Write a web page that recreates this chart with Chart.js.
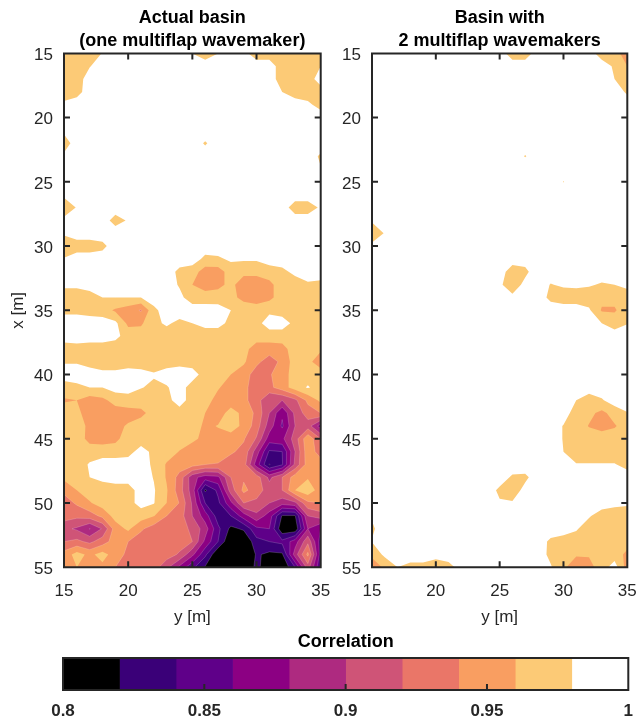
<!DOCTYPE html>
<html>
<head>
<meta charset="utf-8">
<title>Correlation maps</title>
<script src="https://cdn.jsdelivr.net/npm/chart.js@4/dist/chart.umd.min.js"></script>
<style>
    html, body { margin: 0; padding: 0; background: #fff; }
    #page { position: relative; width: 638px; height: 723px; overflow: hidden; }
    canvas { position: absolute; display: block; }
</style>
</head>
<body>
<div id="page">
    <canvas id="left-chart" width="345" height="640" style="left:0;top:0"></canvas>
    <canvas id="right-chart" width="317" height="640" style="left:335px;top:0"></canvas>
    <canvas id="colorbar" width="660" height="93" style="left:0;top:630px"></canvas>
</div>
<script>
// Measurement grid, metres
const yPositions = [15, 16, 17, 18, 19, 20, 21, 22, 23, 24, 25, 26, 27, 28, 29, 30, 31, 32, 33, 34, 35];
const xPositions = [15, 16, 17, 18, 19, 20, 21, 22, 23, 24, 25, 26, 27, 28, 29, 30, 31, 32, 33, 34, 35,
    36, 37, 38, 39, 40, 41, 42, 43, 44, 45, 46, 47, 48, 49, 50, 51, 52, 53, 54, 55];

// Correlation x 100, one row per x position (15..55), one value per y position (15..35)
const actualBasin = [
    [97,97,97,98.1,99,99,99,99,99,99,98,97,98,99,98.6,97,97,97,97,97,97],
    [97,97,97.9,99,99,99,99,99,99,99,99,99,99,99,99,99,99,97,97,97,98],
    [97,97,99,99,99,99,99,99,99,99,99,99,99,99,99,99,99,97,97,97,99],
    [97,97.3,99,99,99,99,99,99,99,99,99,99,99,99,99,99,99,98,97,97,97],
    [98.4,99,99,99,99,99,99,99,99,99,99,99,99,99,99,99,99,99,99,98.4,97.3],
    [99,99,99,99,99,99,99,99,99,99,99,99,99,99,99,99,99,99,99,99,99],
    [98.4,99,99,99,99,99,99,99,99,99,99,99,99,99,99,99,99,99,99,99,99],
    [97,99,99,99,99,99,99,99,99,99,99,97.8,99,99,99,99,99,99,99,99,99],
    [98.4,99,99,99,99,99,99,99,99,99,99,99,99,99,99,99,99,99,99,99,97.7],
    [99,99,99,99,99,99,99,99,99,99,99,99,99,99,99,99,99,99,99,99,98.1],
    [99,99,99,99,99,99,99,99,99,99,99,99,99,99,99,99,99,99,99,99,99],
    [98.3,99,99,99,99,99,99,99,99,99,99,99,99,99,99,99,99,99,99,99,99],
    [97,98.1,99,99,99,99,99,99,99,99,99,99,99,99,99,99,99,99,97,97,98.3],
    [98.4,99,99,99,97.2,98.2,99,99,99,99,99,99,99,99,99,99,99,99,99,99,99],
    [98.2,99,99,99,99,99,99,99,99,99,99,99,99,99,99,99,99,99,99,99,99],
    [97,97,97,97.5,99,99,99,99,99,99,99,99,99,99,99,99,99,99,99,99,99],
    [98.1,99,99,99,99,99,99,99,99,99,99,97.5,97.7,98.3,98.3,98.3,99,99,99,99,99],
    [99,99,99,99,99,99,99,99,99,97.5,97,95,95,97,96.5,96.5,97,97.5,98.5,99,99],
    [98.4,98.4,99,99,99,99,99,99,99,97.8,96,95,95.5,96.5,95,95,95.5,97,97,97.7,97.5],
    [97,97,97,98,98,98,98,99,99,98.5,97,97,96.9,96.5,95.5,95,95.5,97,97,97,97],
    [97.5,97.5,97.2,96.9,95.7,95,93.8,97.5,99,99,99,99,99,98,97,97,97.5,97,97,97,97],
    [99,99,99,99,98.5,95.5,95.7,97.5,98.3,97.5,98,98.6,98.6,97.5,97,97.3,99,99,97.4,97,97],
    [98.5,99,99,99,98.5,97.2,97,97,97,97,97,97,97,97,97,97,97,97,97,97,97],
    [97.5,97.3,97,97,97,97,97,97,97,97,97,97,97,97,96.7,95,95,95.3,97,97,96.3],
    [97.8,97.8,97.2,97,97,97,97,97,97,97.4,97,97,97,96.9,96.3,94.5,93,94.5,97,96.5,95],
    [99,99,99,98.5,98.5,99,98.7,98.2,99,99,99,97,96.9,96,95,93,93.8,95,97,97,97],
    [97,97.5,98,98,98.8,99,98.1,97.6,97.8,99,97,97,96.2,95,94.5,93,93.5,95,97,98.2,97],
    [95.8,96,95,95.5,96.8,97,97,97,97.3,99,97,96.8,95.3,95,94.5,93,90,90,91.5,94.5,96.5],
    [97,96.5,95,95,95,95.3,95.5,96.8,97,97,97,96,95,96.8,95.5,93.5,90,86.3,90.5,93,94],
    [97,97,95.5,95,95.5,96.2,97,97,97,97,97,95.6,96.1,97,95.5,93,89,85.7,90,91,87],
    [97,97,95.4,95.2,95.5,97,97,97.8,97,96.9,96.4,95.5,95.4,95,94.2,91.8,87,87.5,91,95.5,92],
    [97,97,97,97,97,97.3,98.8,97.5,97,95.9,95,95,94.8,94.3,93.4,89,83.7,84,90,95.3,93],
    [97,97,98.2,99,99,99,99,97.6,95.8,95,94.8,94,93.9,92.9,93,87,81.9,83.8,90.5,95,95],
    [96.5,97,98,98.5,99,99,99,97.9,95.8,93.3,88.7,87,87.5,92,93.7,93,89.5,92,95,95.8,94.8],
    [94.5,96,97,97,97,97,99,98.2,96.2,92.9,89,81.7,84.5,91,94.5,93,91,92,96,97.5,94.8],
    [93,94.3,95.8,97,97,97.3,98.7,98.1,96,93.9,89.7,84,83.5,87.5,92,91.5,90,88.8,89.5,93.5,94],
    [93,92.5,93,94.5,96.8,97,97,96.1,94,93,90,87,83,84,87,89.5,87,81.8,81.8,90,91],
    [90.5,89.7,87.9,90.2,95,96.4,94.3,93,93,93,91.5,89,84.5,81.5,82.3,85.5,86,80.5,80.5,88,86],
    [92,92.5,91.5,93,95,94,93,93,93,93,92,87.5,84,80,80,83.3,84,84.5,87,91.5,85],
    [94.8,96.8,95.5,96.8,95,93.5,93,93,93,91.7,88.5,84.5,80,79,79,82.3,81.5,81.7,89,94.5,85],
    [94.8,96,95,95.5,94,93,93,93,90.5,87.5,84.5,81.8,79,79,79,82.8,80,80,84,91,84]
];

const twoWavemakers = [
    [99,99,99,99,99,99,99,99,99,99,99,97,97,99,99,99,99,99,97,96.8,95],
    [99,99,99,99,99,99,99,99,99,99,99,99,99,99,99,99,99,99,99,97.7,96],
    [99,99,99,99,99,99,99,99,99,99,99,99,99,99,99,99,99,99,99,98,97],
    [99,99,99,99,99,99,99,99,99,99,99,99,99,99,99,99,99,99,99,99,97.7],
    [99,99,99,99,99,99,99,99,99,99,99,99,99,99,99,99,99,99,99,99,99],
    [99,99,99,99,99,99,99,99,99,99,99,99,99,99,99,99,99,99,99,99,99],
    [99,99,99,99,99,99,99,99,99,99,99,99,99,99,99,99,99,99,99,99,99],
    [99,99,99,99,99,99,99,99,99,99,99,99,99,99,99,99,99,99,99,99,99],
    [99,99,99,99,99,99,99,99,99,99,99,99,97.9,99,99,99,99,99,99,99,99],
    [99,99,99,99,99,99,99,99,99,99,99,99,99,99,99,99,99,99,99,99,99],
    [99,99,99,99,99,99,99,99,99,99,99,99,99,99,99,97.95,99,99,99,99,99],
    [99,99,99,99,99,99,99,99,99,99,99,99,99,99,99,99,99,99,99,99,99],
    [99,99,99,99,99,99,99,99,99,99,99,99,99,99,99,99,99,99,99,99,99],
    [98.2,99,99,99,99,99,99,99,99,99,99,99,99,99,99,99,99,99,99,99,99],
    [97,98.1,99,99,99,99,99,99,99,99,99,99,99,99,99,99,99,99,99,99,99],
    [98.4,99,99,99,99,99,99,99,99,99,99,99,99,99,99,99,99,99,99,99,99],
    [99,99,99,99,99,99,99,99,99,99,99,99,98.7,99,99,99,99,99,99,99,99],
    [99,99,99,99,99,99,99,99,99,99,99,96.9,97.6,99,99,99,99,99,99,99,99],
    [99,99,99,99,99,99,99,99,99,99,98.3,97,98.5,99,97.9,98.3,98.4,98.2,97.8,98,98.5],
    [99,99,99,99,99,99,99,99,99,99,99,98.4,99,99,97.5,97,97,97,96.5,96.5,97],
    [97.8,99,99,99,99,99,99,99,99,99,99,99,99,99,99,99,99,98.3,95.8,95.8,97],
    [99,99,99,99,99,99,99,99,99,99,99,99,99,99,99,99,99,99,98,97,97.9],
    [99,99,99,99,99,99,99,99,99,99,99,99,99,99,99,99,99,99,99,99,99],
    [99,99,99,99,99,99,99,99,99,99,99,99,99,99,99,99,99,99,99,99,99],
    [99,99,99,99,99,99,99,99,99,99,99,99,99,99,99,99,99,99,99,99,99],
    [99,99,99,99,99,99,99,99,99,99,99,99,99,99,99,99,99,99,99,99,99],
    [99,99,99,99,99,99,99,99,99,99,99,99,99,99,99,99,99,99,99,99,99],
    [99,99,99,99,99,99,99,99,99,99,99,99,99,99,99,99,98,97,97.8,99,99],
    [99,99,99,99,99,99,99,99,99,99,99,99,99,99,99,99,97,96.5,95.5,96.8,97.9],
    [99,99,99,99,99,99,99,99,99,99,99,99,99,99,99,97.9,97,95.9,95.3,95.8,97],
    [99,99,99,99,99,99,99,99,99,99,99,99,99,99,99,97.9,97,97,97,97,97],
    [99,99,99,99,99,99,99,99,99,99,99,99,99,99,99,98,97,97,97,97,97],
    [99,99,99,99,99,99,99,99,99,99,99,99,99,99,99,99,98.1,98.1,98.1,98.1,97.5],
    [99,99,99,99,99,99,99,99,99,99,99,97.7,97.6,99,99,99,99,99,99,99,98.7],
    [99,99,99,99,99,99,99,99,99,99,97.6,97,98.6,99,99,99,99,99,99,99,99],
    [99,99,99,99,99,99,99,99,99,99,98.2,98.2,99,99,99,99,99,99,99,98.5,98.3],
    [98.2,99,99,99,99,99,99,99,99,99,99,99,99,99,99,99,99,98.2,97,97,97],
    [97.7,99,99,99,99,99,99,99,99,99,99,99,99,99,99,99,98.2,97,97,97,97],
    [98.1,99,99,99,99,99,99,99,99,99,99,99,99,99,97.6,97,97,97,97,97,96.8],
    [96.4,98.5,99,99,99,98.6,99,99,99,99,99,99,99,99,97.5,97,96.2,96.2,97,97,95.5],
    [95,96.3,98,97.4,97.4,97,97.3,98.8,99,99,99,99,99,99,98.2,96.3,95,95.3,97,99,95]
];

// Contour levels (x 100) and the colour of each band, lowest first. Above 98 stays white.
const levels = [80, 82, 84, 86, 88, 90, 92, 94, 96, 98, 100];
const bandColors = ['#000000', '#3a0078', '#5f0089', '#8c0083', '#ae2a80', '#cf5477', '#ea7668', '#f99e61', '#fcca76', '#ffffff'];
const colorbarTicks = [0.8, 0.85, 0.9, 0.95, 1];

const INK = '#262626';
const FONT = '"Liberation Sans", Arial, sans-serif';

// Clip one grid cell to the part below a level. corners are [px, py, value]
function clipCell(corners, level, crossings) {
    const out = [];
    for (let i = 0; i < corners.length; i++) {
        const a = corners[i];
        const b = corners[(i + 1) % corners.length];
        if (a[2] < level) out.push(a);
        if ((a[2] < level) !== (b[2] < level)) {
            const t = (level - a[2]) / (b[2] - a[2]);
            const p = [a[0] + t * (b[0] - a[0]), a[1] + t * (b[1] - a[1]), level];
            out.push(p);
            crossings.push(p);
        }
    }
    return out;
}

// Filled contours, highest band first so the lower ones paint over it
const contourPlugin = {
    id: 'contour',
    beforeDatasetsDraw(chart) {
        const rows = chart.options.plugins.contour.rows;
        const { ctx, chartArea, scales } = chart;
        const px = yPositions.map(v => scales.x.getPixelForValue(v));
        const py = xPositions.map(v => scales.y.getPixelForValue(v));
        const seams = [];
        ctx.save();
        ctx.beginPath();
        ctx.rect(chartArea.left, chartArea.top, chartArea.width, chartArea.height);
        ctx.clip();
        for (let k = levels.length - 3; k >= 0; k--) {
            const level = levels[k + 1];
            ctx.beginPath();
            for (let i = 0; i < py.length - 1; i++) {
                for (let j = 0; j < px.length - 1; j++) {
                    const crossings = [];
                    const poly = clipCell([
                        [px[j], py[i], rows[i][j]],
                        [px[j + 1], py[i], rows[i][j + 1]],
                        [px[j + 1], py[i + 1], rows[i + 1][j + 1]],
                        [px[j], py[i + 1], rows[i + 1][j]]
                    ], level, crossings);
                    if (level <= 94) seams.push(...crossings);
                    if (poly.length < 3) continue;
                    poly.forEach((p, n) => n ? ctx.lineTo(p[0], p[1]) : ctx.moveTo(p[0], p[1]));
                    ctx.closePath();
                }
            }
            ctx.fillStyle = bandColors[k];
            ctx.fill();
        }
        // the pale hairlines between the darker bands
        ctx.beginPath();
        for (let n = 0; n + 1 < seams.length; n += 2) {
            ctx.moveTo(seams[n][0], seams[n][1]);
            ctx.lineTo(seams[n + 1][0], seams[n + 1][1]);
        }
        ctx.strokeStyle = 'rgba(255, 255, 255, 0.22)';
        ctx.lineWidth = 0.8;
        ctx.stroke();
        ctx.restore();
    }
};

// Box around the axes with MATLAB style inward ticks
const framePlugin = {
    id: 'frame',
    afterDraw(chart) {
        const opts = chart.options.plugins.frame;
        const { ctx, chartArea: a, scales } = chart;
        ctx.save();
        ctx.strokeStyle = INK;
        ctx.lineWidth = 2;
        ctx.beginPath();
        scales.x.ticks.forEach(t => {
            const p = scales.x.getPixelForValue(t.value);
            ctx.moveTo(p, a.bottom);
            ctx.lineTo(p, a.bottom - opts.tick);
            if (opts.allSides) {
                ctx.moveTo(p, a.top);
                ctx.lineTo(p, a.top + opts.tick);
            }
        });
        if (opts.allSides) {
            scales.y.ticks.forEach(t => {
                const p = scales.y.getPixelForValue(t.value);
                ctx.moveTo(a.left, p);
                ctx.lineTo(a.left + opts.tick, p);
                ctx.moveTo(a.right, p);
                ctx.lineTo(a.right - opts.tick, p);
            });
        }
        ctx.rect(a.left, a.top, a.width, a.height);
        ctx.stroke();
        ctx.restore();
    }
};

function makePanel(id, rows, titleLines, opts) {
    const points = [];
    rows.forEach((row, i) => row.forEach((v, j) => points.push({ x: yPositions[j], y: xPositions[i], v })));
    return new Chart(document.getElementById(id), {
        type: 'scatter',
        data: { datasets: [{ data: points, pointRadius: 0, pointHoverRadius: 0 }] },
        plugins: [contourPlugin, framePlugin],
        options: {
            responsive: false,
            animation: false,
            devicePixelRatio: 1,
            events: [],
            layout: { padding: { left: 0, right: opts.paddingRight, top: 0, bottom: 0 } },
            plugins: {
                legend: { display: false },
                tooltip: { enabled: false },
                contour: { rows },
                frame: { tick: 6, allSides: true },
                title: {
                    display: true,
                    text: titleLines,
                    fullSize: false,
                    color: '#000',
                    font: { family: FONT, size: 18, weight: 'bold', lineHeight: 1.28 },
                    padding: { top: 6.5, bottom: 0.8 }
                }
            },
            scales: {
                x: {
                    type: 'linear',
                    min: 15,
                    max: 35,
                    grid: { display: false },
                    border: { display: false },
                    ticks: { stepSize: 5, color: INK, padding: 6, maxRotation: 0, font: { family: FONT, size: 17 } },
                    title: {
                        display: true,
                        text: 'y [m]',
                        color: INK,
                        font: { family: FONT, size: 17 },
                        padding: { top: 0, bottom: 12 }
                    },
                    afterFit(scale) { scale.height = 640 - 567.3; }
                },
                y: {
                    type: 'linear',
                    reverse: true,
                    min: 15,
                    max: 55,
                    grid: { display: false },
                    border: { display: false },
                    ticks: { stepSize: 5, color: INK, padding: 3, labelOffset: 2, font: { family: FONT, size: 17 } },
                    title: {
                        display: opts.showYTitle,
                        text: 'x [m]',
                        color: INK,
                        font: { family: FONT, size: 17 },
                        padding: { top: 8, bottom: 0 }
                    },
                    afterFit(scale) { scale.width = opts.axisWidth; }
                }
            }
        }
    });
}

function makeColorbar() {
    const datasets = bandColors.map((color, k) => ({
        data: [[levels[k] / 100, levels[k + 1] / 100]],
        backgroundColor: color,
        borderWidth: 0,
        barPercentage: 1,
        categoryPercentage: 1,
        grouped: false
    }));
    return new Chart(document.getElementById('colorbar'), {
        type: 'bar',
        data: { labels: ['Correlation'], datasets },
        plugins: [framePlugin],
        options: {
            indexAxis: 'y',
            responsive: false,
            animation: false,
            devicePixelRatio: 1,
            events: [],
            layout: { padding: { left: 63, right: 31.7, top: 0, bottom: 0 } },
            plugins: {
                legend: { display: false },
                tooltip: { enabled: false },
                frame: { tick: 6, allSides: false },
                title: {
                    display: true,
                    text: 'Correlation',
                    fullSize: false,
                    color: '#000',
                    font: { family: FONT, size: 18, weight: 'bold', lineHeight: 1.2 },
                    padding: { top: 1, bottom: 5.4 }
                }
            },
            scales: {
                x: {
                    type: 'linear',
                    min: colorbarTicks[0],
                    max: colorbarTicks[colorbarTicks.length - 1],
                    grid: { display: false },
                    border: { display: false },
                    afterBuildTicks(scale) { scale.ticks = colorbarTicks.map(value => ({ value })); },
                    ticks: {
                        color: INK,
                        padding: 3,
                        maxRotation: 0,
                        autoSkip: false,
                        font: { family: FONT, size: 17, weight: 'bold' },
                        callback: v => String(v)
                    },
                    afterFit(scale) { scale.height = 33; }
                },
                y: { display: false }
            }
        }
    });
}

makePanel('left-chart', actualBasin, ['Actual basin', '(one multiflap wavemaker)'], { axisWidth: 64, paddingRight: 24.3, showYTitle: true });
makePanel('right-chart', twoWavemakers, ['Basin with', '2 multiflap wavemakers'], { axisWidth: 37, paddingRight: 24.7, showYTitle: false });
makeColorbar();
</script>
</body>
</html>
